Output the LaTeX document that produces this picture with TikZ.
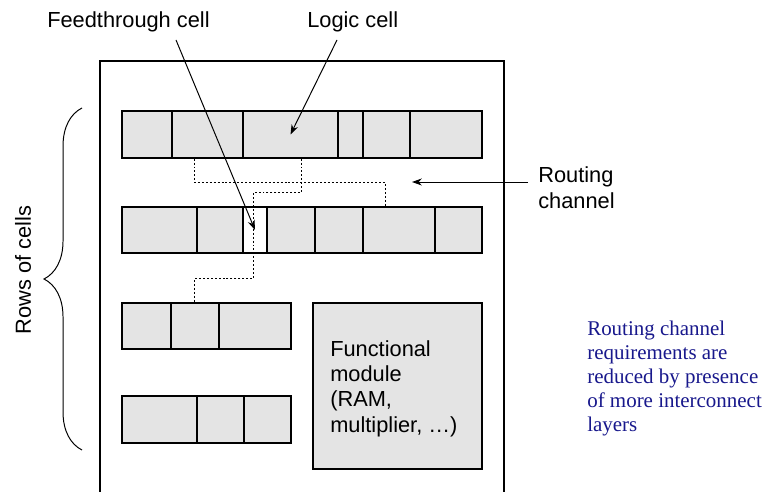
\documentclass[tikz,border=0pt]{standalone}
\usepackage{fontspec}
\setmainfont{Liberation Sans}
\newfontfamily\notefont{Liberation Serif}
\usetikzlibrary{arrows.meta,positioning,fit,calc,decorations.pathreplacing}
\definecolor{cellgray}{RGB}{228,228,228}
\definecolor{noteblue}{RGB}{24,24,140}

\begin{document}
\begin{tikzpicture}[x=0.025cm,y=-0.025cm,
    cell/.style={draw,line width=0.9pt,fill=cellgray,inner sep=0pt},
    feedcell/.style={cell,fill=white},
    lbl/.style={font=\fontsize{15.5}{18}\selectfont,align=left,inner sep=0pt},
    note/.style={font=\notefont\fontsize{14.9}{17}\selectfont,text=noteblue,align=left,inner sep=0pt},
    wire/.style={line width=0.9pt,dash pattern=on 1.4pt off 1.4pt},
    pointer/.style={line width=0.7pt,-{Stealth[length=7pt,width=5pt]}}]
      \useasboundingbox (0,0) rectangle (769,492);
      % chip outline, open at the bottom
      \draw[line width=0.85pt] (100,492) |- (504,61) -- (504,492);
      % rows of cells
      \foreach \a/\b [count=\i] in {122/172,172/243,243/338,338/363,363/410,410/482}
        \node[cell,fit={(\a,111) (\b,158)}] (r1-\i) {};
      \foreach \a/\b [count=\i] in {122/197,197/243}
        \node[cell,fit={(\a,207) (\b,253)}] (r2-\i) {};
      \node[feedcell,fit={(243,207) (267,253)}] (ft) {};
      \foreach \a/\b [count=\i from 4] in {267/315,315/363,363/435,435/482}
        \node[cell,fit={(\a,207) (\b,253)}] (r2-\i) {};
      \foreach \a/\b [count=\i] in {122/171,171/219,219/291}
        \node[cell,fit={(\a,303) (\b,349)}] (r3-\i) {};
      \foreach \a/\b [count=\i] in {122/197,197/244,244/291}
        \node[cell,fit={(\a,396) (\b,443)}] (r4-\i) {};
      \node[cell,fit={(313,303) (482,469)}] (module) {};
      \node[lbl,anchor=base west] (modlabel) at (330,432)
        {Functional\\module\\(RAM,\\multiplier, \ldots)};
      % routing through the channels
      \draw[wire] ($(r1-2.south west)+(23,0)$) -- ++(0,24) -| ($(r2-6.north west)+(23,0)$);
      \draw[wire] ($(r1-3.south west)+(59,0)$) -- ++(0,34) -| ++(-48,86)
        -| ($(r3-2.north west)+(24,0)$);
      % labels
      \node[lbl,anchor=base west] (ftlabel) at (47,27.7) {Feedthrough cell};
      \node[lbl,anchor=base west] (lclabel) at (307,27.7) {Logic cell};
      \node[lbl,anchor=base west] (rclabel) at (538,208) {Routing\\channel};
      \node[lbl,rotate=90] (rowlabel) at (23,270) {Rows of cells};
      \node[note,anchor=base west] (note) at (587,431)
        {Routing channel\\requirements are\\reduced by presence\\of more interconnect\\layers};
      \coordinate (fttail) at (176,40);
      \coordinate (lctail) at (337,40);
      \coordinate (rctail) at (528,182);
      \coordinate (rchead) at (412,182);
      \draw[pointer] (fttail) -- (ft.center);
      \draw[pointer] (lctail) -- (r1-3.center);
      \draw[pointer] (rctail) -- (rchead);
      \draw[line width=0.7pt,decorate,decoration={brace,amplitude=27pt}] (82,450) -- (82,108);
\end{tikzpicture}
\end{document}
